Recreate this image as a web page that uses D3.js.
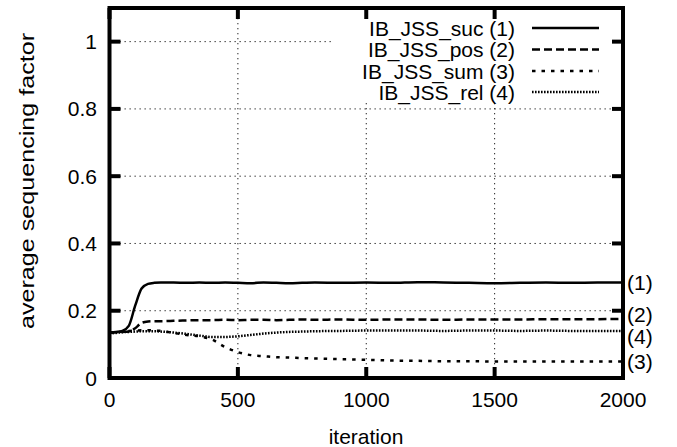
<!DOCTYPE html>
<html><head><meta charset="utf-8">
<script src="https://cdn.jsdelivr.net/npm/d3@7"></script>
<style>
html,body{margin:0;padding:0;background:#fff;}
text{font-family:"Liberation Sans",Arial,Helvetica,sans-serif;fill:#000;}
</style></head>
<body>
<svg id="chart" width="677" height="447"></svg>
<script>
const iterations = [0,25,50,75,100,125,150,175,200,250,300,350,400,450,500,550,600,650,700,750,800,900,1000,1100,1200,1300,1400,1500,1600,1700,1800,1900,2000];
const sucValues  = [0.135,0.137,0.140,0.155,0.215,0.266,0.280,0.283,0.284,0.284,0.283,0.284,0.283,0.284,0.283,0.282,0.284,0.283,0.282,0.283,0.284,0.283,0.284,0.283,0.285,0.284,0.283,0.282,0.283,0.284,0.283,0.284,0.284];
const posValues  = [0.135,0.136,0.137,0.138,0.148,0.164,0.168,0.169,0.169,0.170,0.171,0.172,0.172,0.173,0.172,0.173,0.173,0.172,0.173,0.174,0.173,0.174,0.173,0.174,0.174,0.173,0.174,0.174,0.174,0.175,0.175,0.175,0.176];
const sumValues  = [0.135,0.136,0.138,0.140,0.141,0.142,0.142,0.141,0.140,0.134,0.128,0.124,0.114,0.092,0.077,0.068,0.065,0.062,0.061,0.059,0.058,0.056,0.054,0.052,0.051,0.050,0.050,0.049,0.049,0.049,0.049,0.049,0.049];
const relValues  = [0.133,0.134,0.136,0.137,0.138,0.139,0.139,0.139,0.138,0.135,0.131,0.126,0.122,0.122,0.124,0.128,0.132,0.135,0.137,0.138,0.139,0.140,0.141,0.141,0.141,0.140,0.141,0.141,0.140,0.141,0.140,0.140,0.140];
const seriesNames = ["IB_JSS_suc (1)","IB_JSS_pos (2)","IB_JSS_sum (3)","IB_JSS_rel (4)"];
const endLabels = ["(1)","(2)","(3)","(4)"];
const endLabelValues = [0.283,0.190,0.048,0.122];
const xTicks = [0,500,1000,1500,2000];
const yTicks = [0,0.2,0.4,0.6,0.8,1];
const yTickLabels = ["0","0.2","0.4","0.6","0.8","1"];

const dashes = [null,"8,4","3.5,6","1.6,1.4"];
const allSeries = [sucValues,posValues,sumValues,relValues];

const svg = d3.select("#chart");
const pLeft=109.5, pRight=623, pTop=8, pBottom=378;
const FS = 21, OFF = 7.5;
const x = d3.scaleLinear().domain([0,2000]).range([pLeft,pRight]);
const y = d3.scaleLinear().domain([0,1.1]).range([pBottom,pTop]);

// grid
const grid = svg.append("g");
yTicks.filter(v=>v>0).forEach(v=>{
  grid.append("line").attr("x1",pLeft).attr("x2",pRight).attr("y1",y(v)).attr("y2",y(v))
    .attr("stroke","#222").attr("stroke-width",1).attr("stroke-dasharray","1.3,3.7");
});
xTicks.filter(v=>v>0&&v<2000).forEach(v=>{
  grid.append("line").attr("x1",x(v)).attr("x2",x(v)).attr("y1",pTop).attr("y2",pBottom)
    .attr("stroke","#222").attr("stroke-width",1).attr("stroke-dasharray","1.3,3.7");
});

// opaque legend box
svg.append("rect").attr("x",332).attr("y",pTop).attr("width",pRight-332).attr("height",101-pTop).attr("fill","#fff");

// curves
svg.append("clipPath").attr("id","clip").append("rect").attr("x",pLeft).attr("y",pTop).attr("width",pRight-pLeft).attr("height",pBottom-pTop);
const line = d3.line().x((d,i)=>x(iterations[i])).y(d=>y(d)).curve(d3.curveMonotoneX);
allSeries.forEach((s,k)=>{
  svg.append("path").attr("d",line(s)).attr("fill","none").attr("stroke","#000")
    .attr("stroke-width",2.5).attr("stroke-dasharray",dashes[k]).attr("clip-path","url(#clip)");
});

// border
svg.append("rect").attr("x",pLeft).attr("y",pTop).attr("width",pRight-pLeft).attr("height",pBottom-pTop)
  .attr("fill","none").attr("stroke","#000").attr("stroke-width",4);

// ticks (inward, mirrored)
const tickLen=11;
xTicks.forEach(v=>{
  svg.append("line").attr("x1",x(v)).attr("x2",x(v)).attr("y1",pBottom).attr("y2",pBottom-tickLen).attr("stroke","#000").attr("stroke-width",4);
  svg.append("line").attr("x1",x(v)).attr("x2",x(v)).attr("y1",pTop).attr("y2",pTop+tickLen).attr("stroke","#000").attr("stroke-width",4);
  svg.append("text").attr("x",x(v)).attr("y",407).attr("text-anchor","middle").attr("font-size",FS).text(v);
});
yTicks.forEach((v,i)=>{
  svg.append("line").attr("x1",pLeft).attr("x2",pLeft+tickLen).attr("y1",y(v)).attr("y2",y(v)).attr("stroke","#000").attr("stroke-width",4);
  svg.append("line").attr("x1",pRight).attr("x2",pRight-tickLen).attr("y1",y(v)).attr("y2",y(v)).attr("stroke","#000").attr("stroke-width",4);
  svg.append("text").attr("x",97).attr("y",y(v)+OFF).attr("text-anchor","end").attr("font-size",FS).text(yTickLabels[i]);
});

// axis titles
svg.append("text").attr("x",366).attr("y",444).attr("text-anchor","middle").attr("font-size",FS).text("iteration");
svg.append("text").attr("transform","translate(34,181) rotate(-90)").attr("text-anchor","middle").attr("font-size",FS)
  .attr("textLength",296).attr("lengthAdjust","spacingAndGlyphs").text("average sequencing factor");

// legend
const legY=[28,49.5,71,92];
seriesNames.forEach((n,k)=>{
  svg.append("text").attr("x",515).attr("y",legY[k]+OFF).attr("text-anchor","end").attr("font-size",FS).text(n);
  svg.append("line").attr("x1",532).attr("x2",599).attr("y1",legY[k]).attr("y2",legY[k])
    .attr("stroke","#000").attr("stroke-width",2.5).attr("stroke-dasharray",dashes[k]);
});

// end labels
endLabels.forEach((l,k)=>{
  svg.append("text").attr("x",627).attr("y",y(endLabelValues[k])+OFF).attr("font-size",FS).text(l);
});
</script>
</body></html>
